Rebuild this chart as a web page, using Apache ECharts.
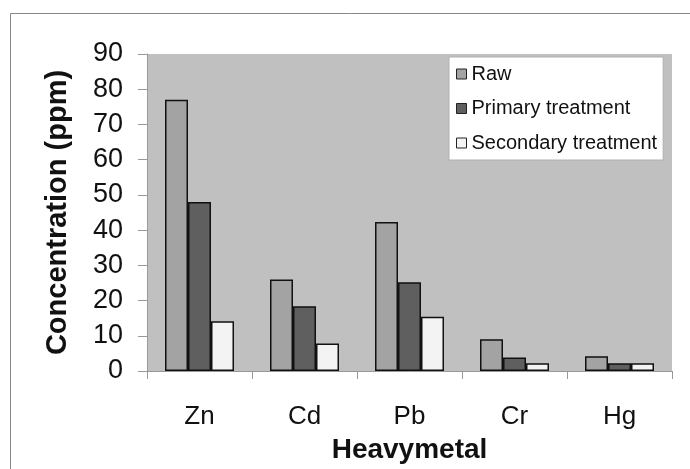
<!DOCTYPE html>
<html>
<head>
<meta charset="utf-8">
<script src="https://cdn.jsdelivr.net/npm/echarts@6/dist/echarts.min.js"></script>
<style>
html,body{margin:0;padding:0;background:#fff;}
#chart{width:690px;height:469px;}
</style>
</head>
<body>
<div id="chart"></div>
<script>
var categories = ['Zn', 'Cd', 'Pb', 'Cr', 'Hg'];
var seriesNames = ['Raw', 'Primary treatment', 'Secondary treatment'];
var rawValues = [77, 26, 42.3, 9, 4.2];
var primaryValues = [48, 18.4, 25.2, 3.8, 2.2];
var secondaryValues = [14.1, 7.8, 15.4, 2.2, 2.2];
var yTicks = { min: 0, max: 90, interval: 10 };

var FONT = '"Liberation Sans", Arial, sans-serif';
var colors = ['#a3a3a3', '#5f5f5f', '#f3f3f3'];
var values = [rawValues, primaryValues, secondaryValues];

var chart = echarts.init(document.getElementById('chart'), null, {renderer: 'canvas'});
var option = {
  animation: false,
  backgroundColor: '#ffffff',
  grid: {
    left: 147, right: 18, top: 54, bottom: 98,
    show: true, backgroundColor: '#c0c0c0', borderWidth: 0
  },
  legend: {
    orient: 'vertical',
    left: 449, top: 57,
    padding: [7, 6, 7, 7],
    itemGap: 14.5,
    itemWidth: 10, itemHeight: 10,
    itemStyle: { borderColor: '#222', borderWidth: 1 },
    icon: 'rect',
    backgroundColor: '#ffffff',
    borderColor: '#b0b0b0', borderWidth: 1,
    textStyle: { fontFamily: FONT, fontSize: 20, color: '#111', lineHeight: 20 },
    itemTextGap: 10,
    data: seriesNames
  },
  xAxis: {
    type: 'category',
    data: categories,
    name: 'Heavymetal',
    nameLocation: 'middle',
    nameGap: 65,
    nameTextStyle: { fontFamily: FONT, fontSize: 28, fontWeight: 'bold', color: '#111' },
    axisLine: { lineStyle: { color: '#999', width: 1 } },
    axisTick: { show: true, length: 8, lineStyle: { color: '#999' } },
    axisLabel: { fontFamily: FONT, fontSize: 26, color: '#111', margin: 33 },
    splitLine: { show: false }
  },
  yAxis: {
    type: 'value',
    min: yTicks.min, max: yTicks.max, interval: yTicks.interval,
    name: 'Concentration (ppm)',
    nameLocation: 'middle',
    nameGap: 75,
    nameTextStyle: { fontFamily: FONT, fontSize: 29, fontWeight: 'bold', color: '#111' },
    axisLine: { show: true, lineStyle: { color: '#999', width: 1 } },
    axisTick: { show: true, length: 9, lineStyle: { color: '#999' } },
    axisLabel: { fontFamily: FONT, fontSize: 27, color: '#111', margin: 24 },
    splitLine: { show: false }
  },
  graphic: [
    { type: 'line', shape: { x1: 10.5, y1: 13.5, x2: 690, y2: 13.5 }, style: { stroke: '#888', lineWidth: 1 }, silent: true },
    { type: 'line', shape: { x1: 10.5, y1: 13.5, x2: 10.5, y2: 469 }, style: { stroke: '#888', lineWidth: 1 }, silent: true }
  ],
  series: seriesNames.map(function (name, i) {
    return {
      name: name,
      type: 'bar',
      data: values[i],
      barWidth: 23,
      barGap: '0%',
      itemStyle: { color: colors[i], borderColor: '#111', borderWidth: 1.5 }
    };
  })
};
chart.setOption(option);
</script>
</body>
</html>
